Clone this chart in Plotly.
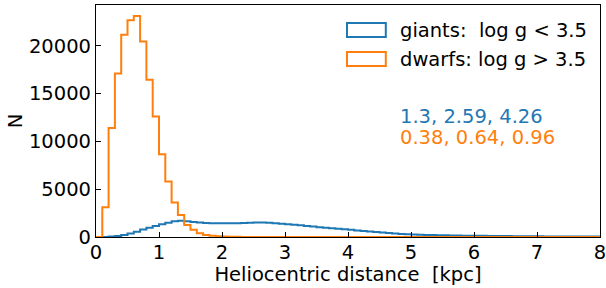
import numpy as np
import plotly.graph_objects as go

# bin edges: 0 to 8 kpc, 0.1 kpc wide
bin_edges = [round(0.1 * i, 1) for i in range(81)]

giants_counts = [
    0, 10, 40, 100, 210, 360, 560, 780, 960, 1150,
    1320, 1480, 1640, 1700, 1640, 1570, 1520, 1470, 1440, 1430,
    1430, 1440, 1450, 1470, 1490, 1520, 1510, 1480, 1440, 1390,
    1340, 1280, 1220, 1160, 1090, 1030, 970, 910, 860, 800,
    750, 690, 630, 570, 510, 460, 410, 365, 325, 295,
    270, 245, 222, 203, 186, 172, 160, 150, 142, 135,
    128, 120, 112, 105, 98, 92, 86, 80, 75, 70,
    66, 62, 58, 55, 52, 49, 46, 44, 42, 40,
]

dwarfs_counts = [
    0, 3100, 11400, 17100, 21150, 22650, 23100, 20450, 16450, 12600,
    8650, 5800, 3600, 2300, 1250, 750, 400, 220, 120, 70,
    40, 25, 15, 10, 6, 4, 3, 2, 1, 1,
    1, 0, 0, 0, 0, 0, 0, 0, 0, 0,
    0, 0, 0, 0, 0, 0, 0, 0, 0, 0,
    0, 0, 0, 0, 0, 0, 0, 0, 0, 0,
    0, 0, 0, 0, 0, 0, 0, 0, 0, 0,
    0, 0, 0, 0, 0, 0, 0, 0, 0, 0,
]

series_names = ["giants:  log g < 3.5", "dwarfs: log g > 3.5"]
series_colors = ["#1f77b4", "#ff7f0e"]
stats_text = ["1.3, 2.59, 4.26", "0.38, 0.64, 0.96"]

x_ticks = [0, 1, 2, 3, 4, 5, 6, 7, 8]
y_ticks = [0, 5000, 10000, 15000, 20000]

FONT = "DejaVu Sans"
FS = 19.5


def step_xy(edges, counts):
    xs = [edges[0]] + list(edges[:-1]) + [edges[-1], edges[-1]]
    ys = [0] + list(counts) + [counts[-1], 0]
    return xs, ys


fig = go.Figure()
for counts, name, col in zip([giants_counts, dwarfs_counts], series_names, series_colors):
    xs, ys = step_xy(bin_edges, counts)
    fig.add_trace(go.Scatter(x=xs, y=ys, mode="lines", line=dict(color=col, width=2, shape="hv"),
                             name=name, showlegend=False, cliponaxis=False))

ymax = max(dwarfs_counts) * 1.05

axis_common = dict(showline=True, linecolor="black", linewidth=1.2, mirror=True,
                   ticks="inside", ticklen=5, tickwidth=1.2, tickcolor="black",
                   showgrid=False, zeroline=False, ticklabeloverflow="allow",
                   tickfont=dict(family=FONT, size=FS, color="black"))

fig.update_xaxes(range=[0, 8], tickvals=x_ticks, ticktext=[str(v) for v in x_ticks],
                 ticklabelstandoff=-3,
                 title=dict(text="Heliocentric distance  [kpc]", font=dict(family=FONT, size=FS, color="black"),
                            standoff=2),
                 **axis_common)
fig.update_yaxes(range=[0, ymax], tickvals=y_ticks, ticktext=[str(v) for v in y_ticks],
                 title=dict(text="N", font=dict(family=FONT, size=FS, color="black"), standoff=1),
                 **axis_common)

# legend drawn manually (matplotlib-style outline patches)
leg_rows_y = [(0.922, 0.862), (0.797, 0.737)]
for (y1, y0), name, col in zip(leg_rows_y, series_names, series_colors):
    fig.add_shape(type="rect", xref="paper", yref="paper", x0=0.498, x1=0.575, y0=y0, y1=y1,
                  line=dict(color=col, width=2), fillcolor="rgba(0,0,0,0)")
    fig.add_annotation(xref="paper", yref="paper", x=0.599, y=(y0 + y1) / 2, xanchor="left",
                       yanchor="middle", text=name, showarrow=False,
                       font=dict(family=FONT, size=FS, color="black"))

for ty, txt, col in zip([0.521, 0.427], stats_text, series_colors):
    fig.add_annotation(xref="paper", yref="paper", x=0.599, y=ty, xanchor="left", yanchor="middle",
                       text=txt, showarrow=False, font=dict(family=FONT, size=FS, color=col))

fig.update_layout(width=606, height=288, margin=dict(l=96, r=6, t=5, b=51, autoexpand=False),
                  plot_bgcolor="white", paper_bgcolor="white",
                  font=dict(family=FONT, size=FS, color="black"))

fig.write_html("out.html", config={"displayModeBar": False, "responsive": False},
               post_script="document.body.style.margin='0';document.body.style.overflow='hidden';")
